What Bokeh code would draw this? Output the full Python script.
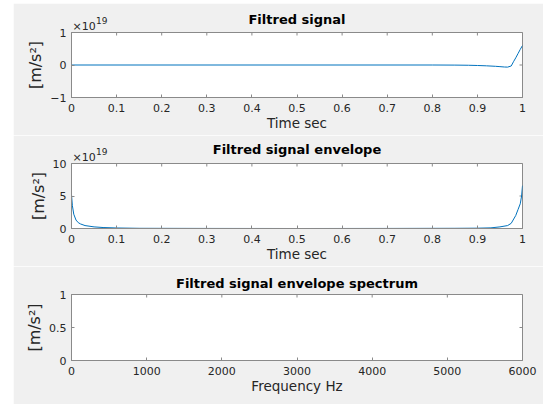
from bokeh.plotting import figure
from bokeh.layouts import column
from bokeh.models import Range1d, FixedTicker, Title
from bokeh.embed import file_html
from bokeh.resources import INLINE

# ---- data (signal amplitudes in units of 1e19 m/s^2) ----
t_signal = [0.0, 0.5, 0.80, 0.85, 0.88, 0.90, 0.92, 0.94, 0.95, 0.96, 0.967, 0.975, 0.98, 0.985, 0.99, 0.995, 1.0]
signal = [0.0, 0.0, 0.0, -0.003, -0.008, -0.015, -0.025, -0.04, -0.05, -0.062, -0.065, -0.03, 0.10, 0.22, 0.35, 0.48, 0.60]

t_env = [0.0, 0.002, 0.005, 0.01, 0.015, 0.02, 0.03, 0.05, 0.07, 0.1, 0.15, 0.3, 0.5, 0.7, 0.85, 0.9, 0.93, 0.95, 0.967, 0.975, 0.985, 0.99, 0.995, 0.998, 1.0]
envelope = [5.2, 3.5, 2.2, 1.3, 0.9, 0.7, 0.45, 0.25, 0.15, 0.08, 0.03, 0.01, 0.0, 0.01, 0.03, 0.05, 0.1, 0.25, 0.45, 0.8, 2.0, 2.9, 3.8, 5.0, 6.6]

freq_ticks = [0, 1000, 2000, 3000, 4000, 5000, 6000]
time_ticks = [0, 0.1, 0.2, 0.3, 0.4, 0.5, 0.6, 0.7, 0.8, 0.9, 1]
titles = ["Filtred signal", "Filtred signal envelope", "Filtred signal envelope spectrum"]
ylabel = "[m/s²]"
exp_base = "×10"
exp_power = "19"

FONT = "DejaVu Sans"
BG = "#f0f0f0"
FRAME = "#8a8a8a"
TXT = "#262626"
LINE = "#0072bd"


def style_axis(ax):
    ax.major_tick_in = 3
    ax.major_tick_out = 0
    ax.minor_tick_in = 0
    ax.minor_tick_out = 0
    ax.axis_line_color = FRAME
    ax.major_tick_line_color = FRAME
    ax.major_label_text_font = FONT
    ax.axis_label_text_font = FONT
    ax.axis_label_text_font_style = "normal"
    ax.major_label_text_color = TXT
    ax.axis_label_text_color = TXT
    ax.major_label_text_font_size = "11px"
    ax.axis_label_text_font_size = "13.5px"
    ax.major_label_standoff = 6
    ax.axis_label_standoff = 0


def make_fig(height, top, bottom, xr, yr, xticks, yticks, xlabel, xover, yover, title, title_standoff):
    p = figure(width=530, height=height, output_backend="svg", toolbar_location=None,
               x_range=Range1d(*xr), y_range=Range1d(*yr),
               min_border_left=58, min_border_right=21,
               min_border_top=top, min_border_bottom=bottom)
    p.background_fill_color = "white"
    p.border_fill_color = BG
    p.outline_line_color = FRAME
    p.grid.visible = False
    p.xaxis.ticker = FixedTicker(ticks=xticks)
    p.yaxis.ticker = FixedTicker(ticks=yticks)
    p.xaxis.major_label_overrides = xover
    p.yaxis.major_label_overrides = yover
    p.xaxis.axis_label = xlabel
    p.yaxis.axis_label = ylabel
    for ax in p.xaxis + p.yaxis:
        style_axis(ax)
    p.yaxis.major_label_standoff = 5
    p.yaxis.axis_label_standoff = 2
    p.yaxis.axis_label_text_font_size = "16px"
    p.title.text = title
    p.title.align = "center"
    p.title.text_font = FONT
    p.title.text_font_size = "13px"
    p.title.text_font_style = "bold"
    p.title.text_color = "black"
    p.title.standoff = title_standoff
    # inward ticks on the top and right edges of the box (half of each dash is clipped away)
    p.scatter(x=xticks, y=[yr[1]] * len(xticks), marker="dash", angle=1.5708, size=6,
              line_color=FRAME, line_width=1)
    p.scatter(x=[xr[1]] * len(yticks), y=yticks, marker="dash", size=6,
              line_color=FRAME, line_width=1)
    return p


def add_exponent(p, power_standoff):
    p.add_layout(Title(text=exp_base, align="left", offset=1, standoff=0,
                       text_font=FONT, text_font_size="11px", text_font_style="normal",
                       text_color=TXT), "above")
    p.add_layout(Title(text=exp_power, align="left", offset=24.5, standoff=power_standoff,
                       text_font=FONT, text_font_size="9px", text_font_style="normal",
                       text_color=TXT), "above")


time_over = {0: "0", 1: "1"}

p1 = make_fig(132, 29, 38, (0, 1), (-1, 1), time_ticks, [-1, 0, 1], "Time sec", time_over, {},
              titles[0], -18)
p1.line(t_signal, signal, line_color=LINE, line_width=1)
add_exponent(p1, -12)

p2 = make_fig(131, 28, 38, (0, 1), (0, 10), time_ticks, [0, 5, 10], "Time sec", time_over, {},
              titles[1], -17)
p2.line(t_env, envelope, line_color=LINE, line_width=1)
add_exponent(p2, -12)

p3 = make_fig(138, 28, 44, (0, 6000), (0, 1), freq_ticks, [0, 0.5, 1], "Frequency Hz", {},
              {0: "0", 0.5: "0.5", 1: "1"}, titles[2], 7)

layout = column(p1, p2, p3, spacing=0, margin=(3, 0, 0, 13))

open("out.html", "w").write(file_html(layout, INLINE))
